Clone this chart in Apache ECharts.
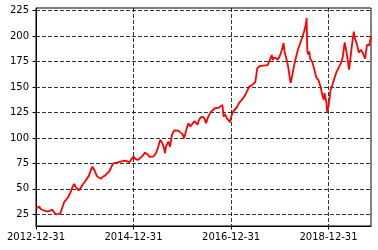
<!DOCTYPE html>
<html><head><meta charset="utf-8">
<script src="https://cdn.jsdelivr.net/npm/echarts@6/dist/echarts.min.js"></script>
<style>html,body{margin:0;padding:0;background:#fff}#c{width:378px;height:250px}</style>
</head><body><div id="c"></div>
<script>
const dates = [
'2013-01-01','2013-01-15','2013-01-25','2013-02-01','2013-02-15','2013-03-01','2013-03-15','2013-04-01','2013-04-15','2013-05-01','2013-05-15','2013-06-01','2013-06-15',
'2013-07-01','2013-07-15','2013-08-01','2013-08-15','2013-09-01','2013-09-15','2013-10-01','2013-10-13','2013-10-22','2013-11-01','2013-11-15','2013-12-01','2013-12-15',
'2014-01-01','2014-01-15','2014-02-01','2014-02-15','2014-02-27','2014-03-15','2014-04-01','2014-04-15','2014-05-01','2014-05-15','2014-06-01','2014-06-15',
'2014-07-01','2014-07-15','2014-08-01','2014-08-15','2014-09-01','2014-09-15','2014-10-01','2014-10-15','2014-11-01','2014-11-15','2014-12-01','2014-12-15',
'2014-12-31','2015-01-15','2015-02-01','2015-02-15','2015-03-01','2015-03-15','2015-03-28','2015-04-15','2015-05-01','2015-05-15','2015-06-01','2015-06-15',
'2015-07-01','2015-07-19','2015-08-01','2015-08-15','2015-08-24','2015-09-01','2015-09-18','2015-10-01','2015-10-15','2015-11-01','2015-11-15','2015-12-01','2015-12-15',
'2016-01-01','2016-01-14','2016-02-01','2016-02-15','2016-03-01','2016-03-15','2016-04-01','2016-04-15','2016-04-24','2016-05-01','2016-05-15','2016-06-01','2016-06-15','2016-06-27',
'2016-07-01','2016-07-15','2016-08-01','2016-08-15','2016-09-01','2016-09-15','2016-10-01','2016-10-15','2016-10-27','2016-11-05','2016-11-15','2016-12-01','2016-12-15','2016-12-24',
'2017-01-01','2017-01-15','2017-02-01','2017-02-15','2017-03-01','2017-03-15','2017-04-01','2017-04-15','2017-05-01','2017-05-15','2017-06-01','2017-06-15',
'2017-07-01','2017-07-15','2017-08-01','2017-08-15','2017-09-01','2017-09-15','2017-10-01','2017-10-15','2017-11-01','2017-11-08','2017-11-15','2017-12-01','2017-12-15',
'2018-01-01','2018-01-15','2018-01-28','2018-02-05','2018-02-15','2018-03-01','2018-03-15','2018-03-22','2018-04-01','2018-04-15','2018-05-01','2018-05-15','2018-06-01','2018-06-15',
'2018-07-01','2018-07-15','2018-07-20','2018-07-25','2018-08-01','2018-08-09','2018-08-15','2018-09-01','2018-09-15','2018-10-01','2018-10-15','2018-11-01','2018-11-15','2018-11-25','2018-12-01','2018-12-15','2018-12-21',
'2019-01-01','2019-01-15','2019-02-01','2019-02-15','2019-03-01','2019-03-15','2019-04-01','2019-04-15','2019-05-01','2019-05-15','2019-06-03','2019-06-15',
'2019-07-01','2019-07-08','2019-07-15','2019-08-01','2019-08-15','2019-09-01','2019-09-15','2019-10-01','2019-10-15','2019-11-01','2019-11-14'
];
const prices = [
30.7,32.2,32.7,30.5,29.4,28.7,28.1,27.7,28.4,29.6,27.2,24.8,24.6,
26.0,27.6,37.5,39.5,42.5,46.5,52.0,54.8,52.3,51.2,48.5,51.0,54.0,
57.0,57.5,63.0,68.6,71.8,68.0,62.5,60.8,59.8,61.9,63.0,65.0,
66.8,68.3,75.1,74.5,75.8,77.4,77.0,75.2,77.8,77.6,76.1,79.0,
81.7,79.4,78.4,79.8,81.4,83.4,85.6,84.0,81.4,80.1,82.0,84.5,
89.8,98.1,96.0,90.7,85.0,92.0,96.4,91.5,103.0,107.4,106.5,107.2,106.5,
104.0,99.8,108.5,114.5,111.2,111.0,116.5,117.8,113.0,116.5,119.8,121.0,119.0,114.5,
116.5,121.5,125.6,127.0,129.2,130.1,129.8,131.2,132.5,121.0,123.5,119.0,119.8,115.5,
121.0,126.0,128.2,130.8,134.5,136.5,139.3,142.0,146.2,150.5,151.4,150.2,
155.0,168.5,170.5,168.8,171.1,172.5,171.5,176.0,181.5,176.5,178.7,178.8,176.8,
180.8,186.5,193.2,184.5,179.5,172.0,160.0,154.0,160.0,170.0,179.0,186.5,192.8,198.0,
204.6,212.0,217.8,186.0,182.0,185.0,178.0,174.5,167.5,159.3,157.3,150.5,142.0,137.6,144.0,135.0,125.5,
132.0,147.0,153.5,159.5,165.0,165.4,173.0,178.5,194.0,184.0,167.2,181.0,
198.0,204.6,198.5,191.9,184.0,186.6,183.0,178.0,191.5,191.0,200.0
];
const xTickLabels = ['2012-12-31','2014-12-31','2016-12-31','2018-12-31'];
const yTickValues = [25,50,75,100,125,150,175,200,225];
const xRange = ['2012-12-31','2019-11-14'];
const yRange = [13.5,227.7];

const ts = s => Date.parse(s + 'T00:00:00Z');
const pad = n => (n<10?'0':'')+n;
const fmt = v => { const d=new Date(v); return d.getUTCFullYear()+'-'+pad(d.getUTCMonth()+1)+'-'+pad(d.getUTCDate()); };
const font = {fontFamily:'DejaVu Sans', fontSize:10, color:'#000'};
const gridLine = {show:true, lineStyle:{color:'#000', width:0.8, type:[4,2]}};
const xTicks = xTickLabels.map(ts);

const chart = echarts.init(document.getElementById('c'), null, {renderer:'canvas'});
chart.setOption({
  animation:false,
  grid:{left:36, right:7, top:8, bottom:24, show:true, borderColor:'#000', borderWidth:1, backgroundColor:'transparent'},
  xAxis:{
    type:'value', min:ts(xRange[0]), max:ts(xRange[1]), scale:true,
    axisLine:{show:true, onZero:false, lineStyle:{color:'#000', width:1}},
    axisTick:{show:true, length:3.5, inside:false, customValues:xTicks, lineStyle:{color:'#000', width:1}},
    axisLabel:Object.assign({customValues:xTicks, margin:6, formatter:fmt, hideOverlap:false, showMinLabel:true, showMaxLabel:true}, font),
    splitLine:gridLine
  },
  yAxis:{
    type:'value', min:yRange[0], max:yRange[1], scale:true,
    axisLine:{show:true, lineStyle:{color:'#000', width:1}},
    axisTick:{show:true, length:3.5, inside:false, customValues:yTickValues, lineStyle:{color:'#000', width:1}},
    axisLabel:Object.assign({customValues:yTickValues, margin:7}, font),
    splitLine:gridLine
  },
  series:[{
    type:'line', data:dates.map((d,i)=>[ts(d),prices[i]]), showSymbol:false, symbol:'none',
    lineStyle:{color:'#ff0000', width:1.8}, sampling:null, z:5
  }]
});
</script></body></html>
